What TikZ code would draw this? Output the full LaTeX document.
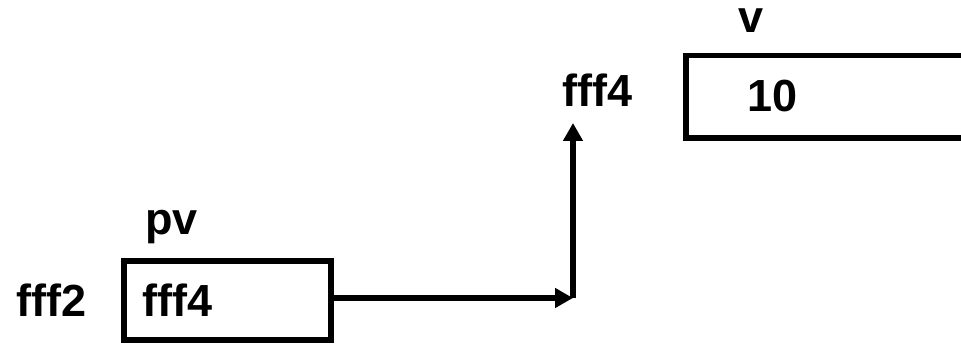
\documentclass[tikz,border=0pt]{standalone}
\usepackage{fontspec}
\setmainfont{Liberation Sans}
\usetikzlibrary{arrows.meta}
\begin{document}
\begin{tikzpicture}[x=1pt,y=-1pt,
  lbl/.style={anchor=base west,inner sep=0pt,font=\fontsize{45}{54}\selectfont\bfseries},
  cell/.style={draw,line width=5.5pt,inner sep=0pt},
  ptr/.style={line width=5.5pt,-{Triangle[length=18pt,width=19pt]}}]
\useasboundingbox (0,0) rectangle (961,344);
\clip (0,0) rectangle (961,344);
% memory cells
\node[cell,minimum width=207pt,minimum height=79pt] (pvbox) at (227.5,300.5) {};
\node[cell,minimum width=320pt,minimum height=82.5pt] (vbox) at (846,96.75) {};
% labels
\node[lbl,text height=25pt] (vname) at (738,33) {v};
\node[lbl] (vaddr) at (562,107) {fff4};
\node[lbl] (vval) at (747,112) {10};
\node[lbl] (pvname) at (145,235) {pv};
\node[lbl] (pvaddr) at (16,317) {fff2};
\node[lbl] (pvval) at (142,317) {fff4};
% pointer path
\coordinate (corner) at (573,298);
\coordinate (tip) at (573,123);
\draw[ptr] (pvbox.east |- corner) -- (corner);
\draw[ptr] (corner) -- (tip);
\end{tikzpicture}
\end{document}
